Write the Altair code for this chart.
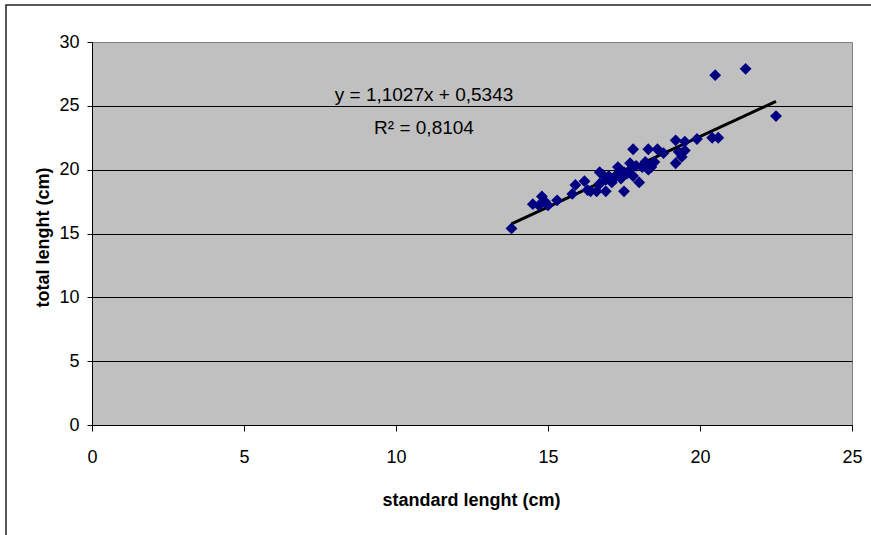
import altair as alt
import pandas as pd

# Data
standard_length = [13.8, 14.5, 14.7, 14.8, 14.9, 15.0, 15.3, 15.8, 15.9, 16.2,
                   16.3, 16.4, 16.6, 16.7, 16.7, 16.8, 16.9, 16.9, 17.0, 17.1,
                   17.2, 17.3, 17.3, 17.4, 17.5, 17.5, 17.6, 17.7, 17.7, 17.8,
                   17.8, 17.9, 18.0, 18.1, 18.2, 18.3, 18.3, 18.4, 18.5, 18.6,
                   18.8, 19.2, 19.2, 19.3, 19.4, 19.5, 19.5, 19.9, 20.4, 20.6,
                   20.5, 21.5, 22.5]
total_length = [15.4, 17.3, 17.2, 17.9, 17.5, 17.2, 17.6, 18.1, 18.8, 19.1,
                18.4, 18.3, 18.3, 19.8, 18.9, 19.6, 18.3, 19.2, 19.5, 19.0,
                19.4, 20.2, 19.7, 19.3, 18.3, 19.8, 19.7, 20.5, 20.0, 21.6,
                19.5, 20.3, 19.0, 20.2, 20.6, 21.6, 20.0, 20.2, 20.6, 21.6,
                21.3, 22.3, 20.5, 21.4, 21.0, 22.2, 21.5, 22.4, 22.5, 22.5,
                27.4, 27.9, 24.2]

trend_x = [13.8, 22.5]
trend_y = [15.75, 25.35]

equation_text = ["y = 1,1027x + 0,5343"]
r2_text = ["R\u00b2 = 0,8104"]

x_ticks = [0, 5, 10, 15, 20, 25]
y_ticks = [0, 5, 10, 15, 20, 25, 30]

FONT = "Liberation Sans"

pts = pd.DataFrame({"x": standard_length, "y": total_length})
trend = pd.DataFrame({"x": trend_x, "y": trend_y})

x_scale = alt.Scale(domain=[0, 25], nice=False, zero=False)
y_scale = alt.Scale(domain=[0, 30], nice=False, zero=False)

x_axis = alt.Axis(
    values=x_ticks, grid=False, title="standard lenght (cm)",
    labelFont=FONT, labelFontSize=18, labelColor="#000", labelPadding=17,
    labelFlush=False, labelOverlap=False,
    tickColor="#000", tickSize=6, domainColor="#000",
    titleFont=FONT, titleFontSize=18, titleFontWeight="bold", titleColor="#000",
    titleX=379, titleY=75, titleBaseline="middle", titleAnchor="middle",
)
y_axis = alt.Axis(
    values=y_ticks, grid=True,
    gridColor=alt.condition("datum.value == 30", alt.value("#808080"), alt.value("#000000")),
    gridWidth=1, gridOpacity=1,
    title="total lenght (cm)",
    labelFont=FONT, labelFontSize=18, labelColor="#000", labelPadding=8,
    labelFlush=False, labelOverlap=False,
    tickColor="#000", tickSize=5, domainColor="#000",
    titleFont=FONT, titleFontSize=18, titleFontWeight="bold", titleColor="#000",
    titleX=-49, titleY=195, titleBaseline="middle", titleAngle=-90, titleAnchor="middle",
)

points = alt.Chart(pts).mark_point(
    shape="diamond", filled=True, color="#000080", size=140, opacity=1
).encode(
    x=alt.X("x:Q", scale=x_scale, axis=x_axis),
    y=alt.Y("y:Q", scale=y_scale, axis=y_axis),
)

line = alt.Chart(trend).mark_line(color="#000000", strokeWidth=3).encode(
    x=alt.X("x:Q", scale=x_scale),
    y=alt.Y("y:Q", scale=y_scale),
)

one = pd.DataFrame({"a": [0]})
eq = alt.Chart(one).mark_text(
    text=equation_text[0], font=FONT, fontSize=19, color="#000",
    align="center", baseline="middle"
).encode(x=alt.value(332), y=alt.value(53))
r2 = alt.Chart(one).mark_text(
    text=r2_text[0], font=FONT, fontSize=19, color="#000",
    align="center", baseline="middle"
).encode(x=alt.value(332), y=alt.value(86))

frame = alt.Chart(one).mark_rect(
    fill="transparent", stroke="#222222", strokeWidth=1.5, clip=False
).encode(x=alt.value(-86), x2=alt.value(800), y=alt.value(-37), y2=alt.value(520))

chart = alt.layer(frame, line, points, eq, r2).properties(
    width=760, height=383,
    autosize=alt.AutoSizeParams(type="none"),
    padding={"left": 92, "top": 42, "right": 19, "bottom": 110},
    background="white",
).configure_view(
    fill="#C0C0C0", stroke="#808080", strokeWidth=1
)

chart.save("out.html", embed_options={"renderer": "svg", "actions": False})
